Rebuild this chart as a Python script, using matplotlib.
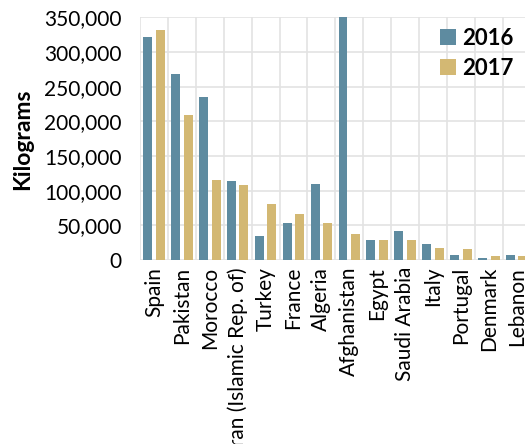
import matplotlib
matplotlib.use("Agg")
import matplotlib.pyplot as plt
import numpy as np
from matplotlib.ticker import FuncFormatter

countries = ["Spain", "Pakistan", "Morocco", "Iran (Islamic Rep. of)", "Turkey",
             "France", "Algeria", "Afghanistan", "Egypt", "Saudi Arabia",
             "Italy", "Portugal", "Denmark", "Lebanon"]
kg_2016 = [322000, 269000, 235000, 114000, 35000, 53000, 109000, 400000,
           29500, 41500, 23000, 7700, 3400, 7700]
kg_2017 = [332000, 209000, 116000, 108000, 80500, 67000, 53000, 37000,
           29500, 29500, 17300, 15400, 5300, 5300]
yticks = [0, 50000, 100000, 150000, 200000, 250000, 300000, 350000]

C16, C17 = "#5e8ba0", "#d3b873"
plt.rcParams["font.family"] = ["Lato", "DejaVu Sans"]

fig = plt.figure(figsize=(5.25, 4.44), dpi=100)
ax = fig.add_axes([0.2667, 0.4144, 0.7440, 0.5462])

x = np.arange(len(countries))
w = 0.32
ax.bar(x - 0.225, kg_2016, w, color=C16, label="2016", zorder=3)
ax.bar(x + 0.225, kg_2017, w, color=C17, label="2017", zorder=3)

ax.set_xlim(-0.5, len(countries) - 0.5)
ax.set_ylim(0, 350000)
ax.set_yticks(yticks)
ax.yaxis.set_major_formatter(FuncFormatter(lambda v, p: f"{v:,.0f}"))
ax.set_xticks(x)
ax.set_xticklabels(countries, rotation=90, fontsize=15)
ax.set_xticks(np.arange(-0.5, len(countries), 1), minor=True)
ax.tick_params(axis="y", length=0, labelsize=15, pad=13)
ax.tick_params(axis="x", which="both", length=0, pad=5)

ax.grid(axis="y", color="#e3e3e3", lw=1.2, zorder=0)
ax.grid(axis="x", which="minor", color="#e3e3e3", lw=1.2, zorder=0)
ax.grid(axis="x", which="major", visible=False)
for s in ax.spines.values():
    s.set_visible(False)

ax.set_ylabel("Kilograms", fontsize=16.5, fontweight="bold", labelpad=8)

fig.legend(loc="upper right", bbox_to_anchor=(1.0, 0.962),
           bbox_transform=fig.transFigure, frameon=False, borderpad=0,
           prop={"size": 16, "weight": "bold"}, handlelength=0.7,
           handleheight=0.7, handletextpad=0.3, labelspacing=0.4)

fig.savefig("out.png", dpi=100)
